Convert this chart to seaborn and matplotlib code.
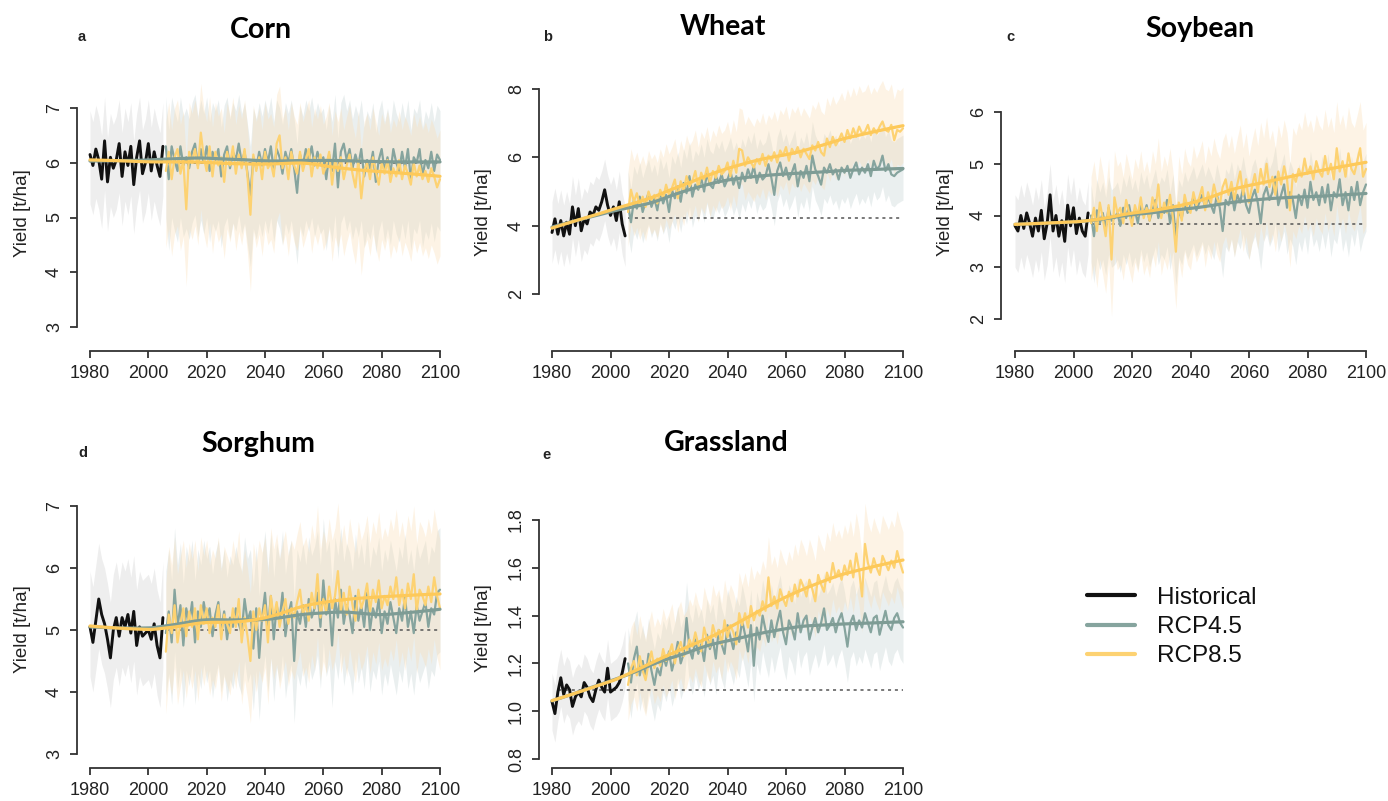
import numpy as np
import pandas as pd
import matplotlib
matplotlib.use("Agg")
import matplotlib.pyplot as plt
from matplotlib.lines import Line2D
import seaborn as sns

sns.set_style("ticks")
plt.rcParams['font.family'] = ['Liberation Sans', 'DejaVu Sans']

# ---------------- data ----------------
hist_years = list(range(1980, 2006))
scen_years = list(range(2006, 2101))

crops = ["Corn", "Wheat", "Soybean", "Sorghum", "Grassland"]
panel_letters = ["a", "b", "c", "d", "e"]

corn_hist = [6.15, 5.95, 6.25, 6.05, 5.70, 6.40, 5.65, 6.10, 5.90, 6.05, 6.35, 5.75, 6.20,
             5.95, 6.30, 5.60, 6.10, 6.40, 5.80, 6.00, 6.35, 5.85, 6.20, 5.95, 5.75, 6.30]
corn_rcp45 = [6.30, 5.70, 6.30, 6.05, 5.85, 6.30, 5.95, 6.10, 5.90, 6.20,
              6.35, 5.95, 6.25, 6.00, 6.30, 5.85, 6.20, 6.05, 6.25, 5.75,
              6.15, 6.30, 5.90, 6.20, 6.05, 6.35, 6.00, 6.20, 5.80, 5.40,
              6.10, 5.90, 6.20, 5.95, 6.25, 6.00, 6.30, 5.85, 6.25, 6.10,
              5.80, 6.20, 6.00, 6.25, 5.90, 5.45, 6.15, 5.95, 6.25, 6.05,
              6.30, 5.95, 6.20, 6.00, 6.10, 5.70, 6.15, 5.85, 6.35, 5.55,
              6.20, 6.35, 6.05, 6.25, 5.90, 6.15, 5.95, 6.25, 5.75, 6.05,
              5.90, 6.20, 5.65, 6.05, 6.25, 5.85, 6.10, 5.80, 6.25, 6.00,
              5.85, 6.20, 5.90, 6.25, 5.70, 6.10, 6.00, 6.25, 5.75, 6.05,
              5.90, 6.20, 5.85, 6.15, 6.05]
corn_rcp85 = [5.85, 6.20, 5.70, 6.10, 6.25, 5.80, 6.05, 5.15, 6.20, 6.00,
              6.25, 5.90, 6.55, 6.10, 5.85, 6.30, 5.75, 6.20, 5.95, 6.10,
              5.65, 6.20, 5.95, 6.30, 5.80, 6.15, 5.90, 6.25, 5.75, 5.05,
              6.15, 5.85, 6.10, 5.70, 6.20, 5.90, 6.00, 5.75, 6.35, 6.50,
              5.90, 6.10, 5.70, 6.20, 5.95, 5.80, 6.20, 5.85, 6.05, 6.25,
              5.75, 6.10, 5.90, 6.15, 5.80, 5.95, 6.20, 5.60, 6.05, 5.85,
              6.10, 5.70, 5.95, 6.15, 5.80, 5.55, 6.05, 5.35, 5.85, 6.00,
              5.70, 6.10, 5.85, 5.60, 6.00, 5.80, 6.05, 5.65, 5.90, 5.75,
              6.05, 5.70, 5.95, 5.80, 5.60, 6.00, 5.75, 5.95, 5.70, 5.85,
              5.65, 5.90, 5.75, 5.55, 5.70]

wheat_hist = [3.80, 4.20, 3.75, 4.15, 3.70, 4.10, 3.75, 4.55, 4.00, 4.50, 3.85, 4.20, 4.05,
              4.40, 4.30, 4.55, 4.45, 4.70, 5.05, 4.60, 4.30, 4.55, 4.15, 4.70, 4.05, 3.70]
wheat_rcp45 = [4.60, 4.10, 4.75, 4.50, 4.85, 4.40, 4.70, 4.95, 4.55, 4.80,
               4.45, 5.00, 4.65, 4.90, 4.40, 5.05, 4.80, 5.15, 4.70, 5.25,
               4.95, 5.45, 4.85, 5.20, 5.05, 5.40, 5.00, 5.55, 5.20, 5.10,
               5.45, 5.25, 5.50, 5.15, 5.35, 5.60, 5.20, 5.45, 5.10, 5.55,
               5.30, 5.65, 5.40, 5.75, 5.25, 5.55, 5.35, 5.45, 5.80, 5.40,
               4.90, 5.60, 5.85, 5.45, 5.70, 5.35, 5.55, 5.80, 5.15, 5.60,
               5.40, 5.75, 5.30, 6.05, 5.65, 5.45, 5.20, 5.70, 5.55, 5.80,
               5.50, 5.65, 5.35, 5.70, 5.55, 5.75, 5.40, 5.65, 5.85, 5.50,
               5.70, 5.55, 5.80, 5.45, 5.90, 5.65, 5.75, 6.05, 5.60, 5.80,
               5.50, 5.45, 5.55, 5.60, 5.65]
wheat_rcp85 = [4.40, 5.05, 4.70, 4.95, 4.60, 4.85, 4.55, 5.00, 4.75, 4.90,
               4.65, 5.05, 4.80, 5.20, 4.90, 5.10, 5.35, 4.80, 5.30, 5.00,
               5.45, 5.15, 5.30, 5.60, 5.10, 5.55, 5.35, 5.70, 5.25, 5.60,
               5.40, 5.75, 5.50, 5.60, 5.85, 5.45, 5.90, 5.55, 6.25, 6.20,
               5.75, 6.00, 5.85, 5.70, 5.95, 5.80, 6.10, 5.75, 6.05, 5.90,
               6.15, 5.85, 6.20, 6.05, 6.30, 5.90, 6.25, 6.10, 6.30, 6.00,
               6.25, 6.10, 5.95, 6.35, 6.20, 6.45, 6.15, 6.05, 6.55, 6.30,
               6.60, 6.35, 6.50, 6.70, 6.45, 6.80, 6.55, 6.85, 6.60, 6.90,
               6.70, 6.75, 6.95, 6.65, 6.85, 6.70, 6.90, 7.05, 6.80, 6.75,
               6.95, 6.50, 6.80, 6.75, 6.85]

soy_hist = [3.80, 3.70, 4.00, 3.75, 4.05, 3.85, 3.60, 3.95, 3.70, 4.10, 3.55, 3.85, 4.40,
            3.70, 4.00, 3.60, 3.90, 3.50, 4.20, 3.80, 4.15, 3.65, 3.95, 3.70, 3.60, 4.05]
soy_rcp45 = [4.00, 3.60, 4.10, 3.85, 4.05, 3.75, 4.15, 3.90, 3.95, 4.05,
             3.80, 4.15, 3.95, 4.20, 3.90, 4.10, 3.85, 4.25, 4.00, 4.20,
             3.90, 4.10, 4.30, 3.95, 4.15, 4.05, 4.30, 3.85, 4.20, 3.55,
             4.10, 3.95, 4.25, 4.05, 4.20, 4.35, 4.10, 4.25, 4.40, 4.15,
             4.35, 4.20, 4.05, 4.40, 4.15, 3.70, 4.30, 4.20, 4.45, 4.10,
             4.40, 4.25, 4.55, 4.20, 4.05, 4.35, 4.50, 4.25, 3.85, 4.40,
             4.55, 4.30, 4.45, 4.75, 4.20, 4.40, 4.60, 4.15, 4.45, 4.30,
             3.95, 4.40, 4.20, 4.50, 4.15, 4.65, 4.30, 4.45, 4.20, 4.55,
             4.25, 4.60, 4.10, 4.45, 4.35, 4.70, 4.20, 4.45, 4.10, 4.55,
             4.30, 4.65, 4.20, 4.45, 4.60]
soy_rcp85 = [3.85, 4.15, 3.70, 4.25, 3.95, 3.60, 4.20, 3.15, 4.35, 4.05,
             4.15, 3.85, 4.30, 4.05, 3.80, 4.20, 4.00, 4.35, 3.95, 4.15,
             3.90, 4.35, 4.10, 4.60, 3.95, 4.25, 4.05, 4.40, 3.95, 3.30,
             4.25, 3.90, 4.40, 4.15, 4.05, 4.45, 4.20, 4.35, 4.55, 4.10,
             4.45, 4.25, 4.60, 4.35, 4.20, 4.55, 4.70, 4.40, 4.65, 4.30,
             4.60, 4.85, 4.40, 4.70, 4.25, 4.55, 4.80, 4.45, 4.90, 4.60,
             5.00, 4.55, 4.75, 4.40, 4.85, 4.60, 4.95, 4.70, 4.10, 4.80,
             4.65, 4.90, 4.75, 5.10, 4.80, 4.95, 4.70, 5.05, 4.85, 4.75,
             5.15, 4.80, 5.00, 4.70, 5.30, 4.85, 5.05, 4.75, 5.20, 4.90,
             4.80, 5.05, 5.30, 4.75, 4.90]

sorg_hist = [5.05, 4.80, 5.15, 5.50, 5.25, 5.10, 4.85, 4.55, 5.00, 5.20, 4.90, 5.20, 5.05,
             5.25, 4.95, 5.30, 4.75, 5.05, 4.90, 4.95, 5.00, 4.85, 5.10, 4.75, 4.55, 5.20]
sorg_rcp45 = [4.95, 5.30, 4.80, 5.65, 5.05, 5.40, 4.75, 5.35, 5.10, 5.45,
              4.80, 5.30, 5.05, 5.45, 5.15, 5.35, 4.90, 5.25, 5.45, 5.00,
              5.30, 4.85, 5.20, 5.05, 5.35, 5.10, 4.95, 5.50, 5.15, 5.30,
              4.70, 5.35, 4.55, 5.20, 5.60, 5.00, 5.55, 4.85, 5.40, 5.15,
              5.60, 4.90, 5.25, 5.45, 4.50, 5.30, 5.10, 5.40, 5.05, 5.50,
              5.20, 5.35, 5.60, 5.05, 5.80, 5.25, 5.45, 4.75, 5.50, 5.20,
              5.65, 5.10, 5.40, 5.25, 4.95, 5.55, 5.15, 5.40, 5.05, 5.60,
              5.00, 5.35, 5.20, 5.50, 4.95, 5.30, 5.10, 5.45, 5.20, 4.95,
              5.35, 5.15, 5.55, 5.05, 5.30, 4.95, 5.40, 5.15, 5.30, 5.45,
              5.05, 5.35, 5.25, 5.60, 5.65]
sorg_rcp85 = [4.65, 5.25, 4.95, 5.40, 4.80, 5.10, 5.35, 4.90, 5.30, 5.05,
              5.35, 4.85, 5.40, 5.10, 5.35, 4.95, 5.20, 5.05, 5.40, 4.85,
              5.25, 5.10, 4.95, 5.35, 5.05, 5.50, 4.80, 5.20, 4.90, 4.50,
              5.30, 5.00, 5.35, 5.15, 5.40, 4.80, 5.55, 5.20, 5.45, 5.05,
              5.30, 5.50, 5.10, 5.35, 5.20, 5.45, 5.65, 5.25, 5.40, 5.15,
              5.60, 5.35, 5.90, 5.20, 5.50, 5.30, 5.70, 5.35, 5.55, 5.95,
              5.30, 5.60, 5.25, 5.70, 5.40, 5.15, 5.65, 5.35, 5.50, 5.75,
              5.30, 5.65, 5.45, 5.80, 5.35, 5.55, 5.40, 5.70, 5.50, 5.85,
              5.40, 5.65, 5.35, 5.75, 5.50, 5.90, 5.30, 5.65, 5.55, 5.40,
              5.70, 5.45, 5.85, 5.55, 5.35]

grass_hist = [1.04, 0.99, 1.08, 1.14, 1.07, 1.11, 1.09, 1.02, 1.06, 1.08, 1.06, 1.12, 1.10,
              1.06, 1.04, 1.09, 1.13, 1.10, 1.08, 1.18, 1.08, 1.09, 1.10, 1.12, 1.16, 1.22]
grass_rcp45 = [1.20, 1.12, 1.22, 1.27, 1.15, 1.21, 1.14, 1.24, 1.17, 1.11,
               1.18, 1.15, 1.23, 1.19, 1.25, 1.17, 1.22, 1.29, 1.20, 1.24,
               1.39, 1.26, 1.22, 1.30, 1.24, 1.28, 1.21, 1.32, 1.26, 1.30,
               1.22, 1.34, 1.28, 1.24, 1.36, 1.31, 1.26, 1.33, 1.29, 1.38,
               1.32, 1.25, 1.36, 1.19, 1.35, 1.30, 1.40, 1.34, 1.29, 1.38,
               1.31, 1.37, 1.42, 1.33, 1.28, 1.38, 1.35, 1.30, 1.41, 1.33,
               1.38, 1.40, 1.30, 1.35, 1.39, 1.33, 1.37, 1.43, 1.34, 1.36,
               1.39, 1.33, 1.38, 1.41, 1.35, 1.27, 1.37, 1.40, 1.34, 1.38,
               1.35, 1.41, 1.37, 1.33, 1.39, 1.40, 1.32, 1.37, 1.42, 1.36,
               1.34, 1.39, 1.41, 1.37, 1.35]
grass_rcp85 = [1.11, 1.18, 1.21, 1.15, 1.23, 1.17, 1.13, 1.20, 1.25, 1.18,
               1.22, 1.19, 1.26, 1.21, 1.24, 1.28, 1.20, 1.26, 1.29, 1.23,
               1.25, 1.30, 1.27, 1.33, 1.28, 1.25, 1.35, 1.30, 1.27, 1.36,
               1.31, 1.34, 1.28, 1.38, 1.31, 1.36, 1.33, 1.28, 1.41, 1.36,
               1.41, 1.35, 1.44, 1.38, 1.42, 1.40, 1.46, 1.42, 1.56, 1.44,
               1.48, 1.43, 1.51, 1.47, 1.44, 1.50, 1.46, 1.53, 1.48, 1.55,
               1.52, 1.48, 1.55, 1.51, 1.46, 1.57, 1.53, 1.50, 1.58, 1.54,
               1.62, 1.56, 1.59, 1.55, 1.61, 1.57, 1.63, 1.56, 1.66, 1.59,
               1.48, 1.70, 1.62, 1.58, 1.64, 1.60, 1.57, 1.65, 1.62, 1.59,
               1.63, 1.60, 1.67, 1.62, 1.58]

hist_series = [corn_hist, wheat_hist, soy_hist, sorg_hist, grass_hist]
rcp45_series = [corn_rcp45, wheat_rcp45, soy_rcp45, sorg_rcp45, grass_rcp45]
rcp85_series = [corn_rcp85, wheat_rcp85, soy_rcp85, sorg_rcp85, grass_rcp85]

# model-spread (below, above) around each series
hist_spread = [(0.9, 0.8), (0.9, 0.9), (0.8, 0.6), (0.8, 0.9), (0.12, 0.12)]
rcp45_spread = [(1.3, 0.9), (0.9, 1.0), (0.9, 0.6), (1.0, 1.0), (0.15, 0.15)]
rcp85_spread = [(1.4, 0.9), (1.0, 1.2), (1.1, 0.9), (1.0, 1.1), (0.15, 0.17)]

baseline = [6.0, 4.22, 3.84, 5.0, 1.09]
baseline_start = [2006, 2006, 2006, 2006, 1982]

y_ticks = [[3, 4, 5, 6, 7], [2, 4, 6, 8], [2, 3, 4, 5, 6], [3, 4, 5, 6, 7],
           [0.8, 1.0, 1.2, 1.4, 1.6, 1.8]]
y_ticklabels = [["3", "4", "5", "6", "7"], ["2", "4", "6", "8"], ["2", "3", "4", "5", "6"],
                ["3", "4", "5", "6", "7"], ["0.8", "1.0", "1.2", "1.4", "1.6", "1.8"]]
x_ticks = [1980, 2000, 2020, 2040, 2060, 2080, 2100]

# ---------------- layout (pixels) ----------------
W, H = 1388, 801
# spine_x, x1980, x2100, axis_y, (ylo_px, vlo), (yhi_px, vhi), top_px
layout = [
    (77, 90, 440, 351, (327, 3), (108, 7), 75),
    (539, 552, 903, 351, (294, 2), (89, 8), 75),
    (1001, 1015, 1366, 351, (319, 2), (112, 6), 75),
    (77, 90, 440, 768, (754, 3), (506, 7), 490),
    (539, 552, 903, 768, (759, 0.8), (520, 1.8), 490),
]
title_pos = [(261, 38), (723, 35), (1200, 37), (258, 452), (726, 451)]
letter_pos = [(78, 41), (543, 41), (1006, 41), (78, 457), (542, 459)]
ylabel_pos = [(23, 213), (483, 212), (946, 212), (23, 629), (483, 628)]

c_hist = "#111111"
c_45 = "#86a49e"
c_85 = "#fdd272"
c_45_trend = "#7e9c95"
c_85_trend = "#fdc95a"
band_hist = "#dadada"
band_45 = "#cbd8d8"
band_85 = "#fbdcb0"


def smooth(x, y, span=0.35):
    # local linear regression with tricube weights (loess-like)
    x = np.asarray(x, float)
    y = np.asarray(y, float)
    k = int(span * len(x))
    out = []
    for xi in x:
        d = np.abs(x - xi)
        h = np.sort(d)[k]
        w = np.clip(1 - (d / h) ** 3, 0, None) ** 3
        coef = np.polyfit(x, y, 1, w=np.sqrt(w))
        out.append(np.polyval(coef, xi))
    return np.array(out)


fig = plt.figure(figsize=(W / 100, H / 100), dpi=100)

for i, crop in enumerate(crops):
    spine_x, x1980, x2100, axis_y, (ylo_px, vlo), (yhi_px, vhi), top_px = layout[i]
    right_px = x2100 + 13
    pxu = (x2100 - x1980) / 120.0
    pxv = (ylo_px - yhi_px) / (vhi - vlo)
    ax = fig.add_axes([spine_x / W, 1 - axis_y / H, (right_px - spine_x) / W, (axis_y - top_px) / H])
    ax.set_xlim(1980 - (x1980 - spine_x) / pxu, 1980 + (right_px - x1980) / pxu)
    ax.set_ylim(vlo - (axis_y - ylo_px) / pxv, vhi + (yhi_px - top_px) / pxv)

    h = np.array(hist_series[i])
    r45 = np.array(rcp45_series[i])
    r85 = np.array(rcp85_series[i])

    # spread bands
    ax.fill_between(hist_years, h - hist_spread[i][0], h + hist_spread[i][1],
                    color=band_hist, alpha=0.45, lw=0, zorder=1)
    ax.fill_between(scen_years, r45 - rcp45_spread[i][0], r45 + rcp45_spread[i][1],
                    color=band_45, alpha=0.4, lw=0, zorder=1)
    ax.fill_between(scen_years, r85 - rcp85_spread[i][0], r85 + rcp85_spread[i][1],
                    color=band_85, alpha=0.33, lw=0, zorder=1)

    ax.plot([baseline_start[i], 2100], [baseline[i], baseline[i]], ls=(0, (2, 2.5)),
            color="#555555", lw=1.1, zorder=2)

    sns.lineplot(x=hist_years, y=h, ax=ax, color=c_hist, lw=2.1, zorder=3)
    sns.lineplot(x=scen_years, y=r45, ax=ax, color=c_45, lw=1.6, zorder=4)
    sns.lineplot(x=scen_years, y=r85, ax=ax, color=c_85, lw=1.6, zorder=4)

    all_years = hist_years + scen_years
    t45 = smooth(all_years, list(h) + list(r45))
    t85 = smooth(all_years, list(h) + list(r85))
    sns.lineplot(x=all_years, y=t45, ax=ax, color=c_45_trend, lw=2.3, zorder=5)
    sns.lineplot(x=all_years, y=t85, ax=ax, color=c_85_trend, lw=2.3, zorder=6)

    sns.despine(ax=ax)
    ax.spines["left"].set_bounds(y_ticks[i][0], y_ticks[i][-1])
    ax.spines["bottom"].set_bounds(1980, 2100)
    for s in ("left", "bottom"):
        ax.spines[s].set_color("#333333")
        ax.spines[s].set_linewidth(1.3)
    ax.set_xticks(x_ticks)
    ax.set_xticklabels([str(t) for t in x_ticks])
    ax.set_yticks(y_ticks[i])
    ax.set_yticklabels(y_ticklabels[i], rotation=90, va="center")
    ax.tick_params(axis="both", direction="out", length=5, width=1.3, color="#333333",
                   labelsize=13, labelcolor="#222222", pad=5)
    ax.set_xlabel("")
    ax.set_ylabel("")
    ax.patch.set_alpha(0)

    fig.text(ylabel_pos[i][0] / W, 1 - ylabel_pos[i][1] / H, "Yield [t/ha]", rotation=90,
             ha="center", va="center", fontsize=13.5, color="#222222")
    fig.text(title_pos[i][0] / W, 1 - title_pos[i][1] / H, crop, ha="center", va="baseline",
             fontsize=20.5, fontweight="bold", color="black", family=["Lato", "DejaVu Sans"])
    fig.text(letter_pos[i][0] / W, 1 - letter_pos[i][1] / H, panel_letters[i], ha="left",
             va="baseline", fontsize=10.5, fontweight="bold", color="#222222")

handles = [Line2D([], [], color=c_hist, lw=3), Line2D([], [], color=c_45, lw=3),
           Line2D([], [], color=c_85, lw=3)]
leg = fig.legend(handles, ["Historical", "RCP4.5", "RCP8.5"], loc="center left",
                 bbox_to_anchor=(1065 / W, 1 - 627 / H), frameon=False, fontsize=17.5,
                 handlelength=2.0, handletextpad=0.9, labelspacing=0.3)
for t in leg.get_texts():
    t.set_color("#111111")

fig.savefig("out.png", dpi=100)
